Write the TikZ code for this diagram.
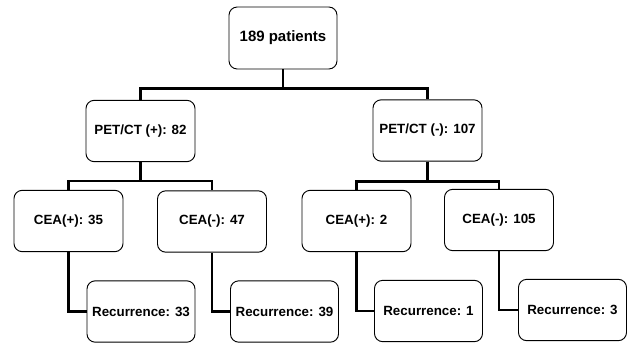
\documentclass[tikz,border=0pt]{standalone}
\usepackage{fontspec}
\setmainfont{Liberation Sans}
\tikzset{
  box/.style={draw, line width=0.8pt, rounded corners=7pt, align=center,
    minimum width=3.27cm, minimum height=1.84cm, inner sep=0pt,
    font=\bfseries\fontsize{11.4}{13}\selectfont},
  link/.style={line width=2pt}
}
\begin{document}
\begin{tikzpicture}[x=0.03cm, y=-0.03cm]
    \useasboundingbox (0,0) rectangle (627,344);

    % Root
    \node[box, minimum width=3.24cm, minimum height=1.86cm,
      font=\bfseries\fontsize{12.8}{14}\selectfont] (top) at (283,38) {189 patients};

    % PET/CT split
    \node[box] (petp) at (140.5,131) {PET/CT (+): 82};
    \node[box] (petn) at (427.5,130.5) {PET/CT (-): 107};

    % CEA split
    \node[box] (ceaA) at (68.5,221) {CEA(+): 35};
    \node[box] (ceaB) at (212,221.5) {CEA(-): 47};
    \node[box] (ceaC) at (356.5,221) {CEA(+): 2};
    \node[box] (ceaD) at (499,220) {CEA(-): 105};

    % Recurrence
    \node[box, minimum width=3.24cm] (recA) at (141,311.5) {Recurrence: 33};
    \node[box, minimum width=3.24cm] (recB) at (284.5,311.5) {Recurrence: 39};
    \node[box, minimum width=3.24cm] (recC) at (428.5,311) {Recurrence: 1};
    \node[box, minimum width=3.24cm] (recD) at (572.5,310) {Recurrence: 3};

    % Connectors
    \draw[link] (top.south) -- ++(0,19) -| (petp.north);
    \draw[link] (top.south) -- ++(0,19) -| (petn.north);
    \draw[link] (petp.south) -- ++(0,19) -| (ceaA.north);
    \draw[link] (petp.south) -- ++(0,19) -| (ceaB.north);
    \draw[link] (petn.south) -- ++(0,20) -| (ceaC.north);
    \draw[link] (petn.south) -- ++(0,20) -| (ceaD.north);
    \foreach \i in {A,B,C,D}
      \draw[link] (cea\i.south) |- (rec\i.west);
\end{tikzpicture}
\end{document}
